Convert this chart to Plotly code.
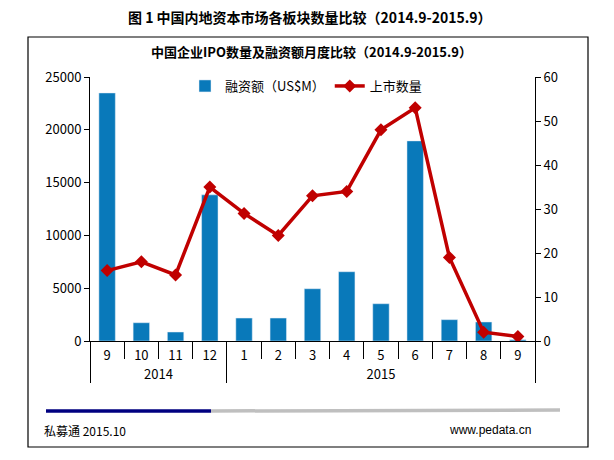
import plotly.graph_objects as go

# Data
years = ["2014"] * 4 + ["2015"] * 9
# the second "9" carries a zero-width space so plotly keeps it as its own category at the end
months = ["9", "10", "11", "12", "1", "2", "3", "4", "5", "6", "7", "8", "9\u200b"]
financing = [23490, 1730, 850, 13840, 2175, 2175, 4950, 6560, 3530, 18950, 2020, 1800, 120]
ipo_count = [16, 18, 15, 35, 29, 24, 33, 34, 48, 53, 19, 2, 1]

# the page puts an 8px body margin around the figure
OFF = 8
W, H = 614 - 2 * OFF, 460 - 2 * OFF
L, R, T, B = 90 - OFF, W - (535 - OFF), 77 - OFF, H - (341 - OFF)
PW, PH = W - L - R, H - T - B


def px(x):
    # window pixel -> paper x
    return (x - OFF - L) / PW


def py(y):
    # window pixel -> paper y
    return (H - B - (y - OFF)) / PH


FONT = "Noto Sans CJK SC"

fig = go.Figure()

fig.add_trace(go.Bar(
    x=[years, months],
    y=financing,
    name="融资额（US$M）",
    marker_color="#0979BA",
    yaxis="y",
))

fig.add_trace(go.Scatter(
    x=[years, months],
    y=ipo_count,
    name="上市数量",
    mode="lines+markers",
    line=dict(color="#C00000", width=3.5),
    marker=dict(symbol="diamond", size=10, color="#C00000"),
    yaxis="y2",
))

shapes = [
    # outer frame
    dict(type="rect", xref="paper", yref="paper",
         x0=px(28), x1=px(588), y0=py(447), y1=py(37),
         line=dict(color="black", width=1.2), layer="below"),
    # footer bar
    dict(type="line", xref="paper", yref="paper",
         x0=px(46), x1=px(211), y0=py(411), y1=py(411),
         line=dict(color="#000080", width=3.5)),
    dict(type="line", xref="paper", yref="paper",
         x0=px(211), x1=px(560), y0=py(411), y1=py(410),
         line=dict(color="#BFBFBF", width=3.5)),
]

annotations = [
    dict(text="<b>图 1 中国内地资本市场各板块数量比较（2014.9-2015.9）</b>",
         x=px(310), y=py(17), xref="paper", yref="paper", showarrow=False,
         yanchor="middle", font=dict(size=14, color="black", family=FONT)),
    dict(text="<b>中国企业IPO数量及融资额月度比较（2014.9-2015.9）</b>",
         x=px(311), y=py(52), xref="paper", yref="paper", showarrow=False,
         yanchor="middle", font=dict(size=13, color="black", family=FONT)),
    dict(text="私募通 2015.10", x=px(42), y=py(430), xref="paper", yref="paper",
         xanchor="left", yanchor="middle", showarrow=False,
         font=dict(size=12, color="black", family=FONT)),
    dict(text="www.pedata.cn", x=px(533), y=py(430), xref="paper", yref="paper",
         xanchor="right", yanchor="middle", showarrow=False,
         font=dict(size=12, color="black", family="Liberation Sans")),
]

fig.update_layout(
    width=W, height=H,
    margin=dict(l=L, r=R, t=T, b=B),
    paper_bgcolor="white",
    plot_bgcolor="white",
    bargap=0.52,
    font=dict(family=FONT, size=13, color="black"),
    showlegend=True,
    legend=dict(orientation="h", x=px(306), xanchor="center", y=py(86), yanchor="middle",
                font=dict(size=13), bgcolor="rgba(0,0,0,0)", itemwidth=30),
    xaxis=dict(type="multicategory", range=[-0.5, 12.5], showline=True,
               linecolor="black", linewidth=1,
               ticks="outside", ticklen=17, tickcolor="black", ticklabelstandoff=2,
               showdividers=True, dividercolor="black", dividerwidth=1,
               showgrid=False, tickfont=dict(size=13)),
    yaxis=dict(range=[0, 25000], dtick=5000, tickformat="d", showline=True,
               linecolor="black", ticks="outside", ticklen=5, tickcolor="black",
               showgrid=False, zeroline=False, tickfont=dict(size=13)),
    yaxis2=dict(range=[0, 60], dtick=10, overlaying="y", side="right",
                showline=True, linecolor="black", ticks="outside", ticklen=5,
                tickcolor="black", showgrid=False, zeroline=False,
                tickfont=dict(size=13)),
    shapes=shapes,
    annotations=annotations,
)

fig.write_html("out.html")
